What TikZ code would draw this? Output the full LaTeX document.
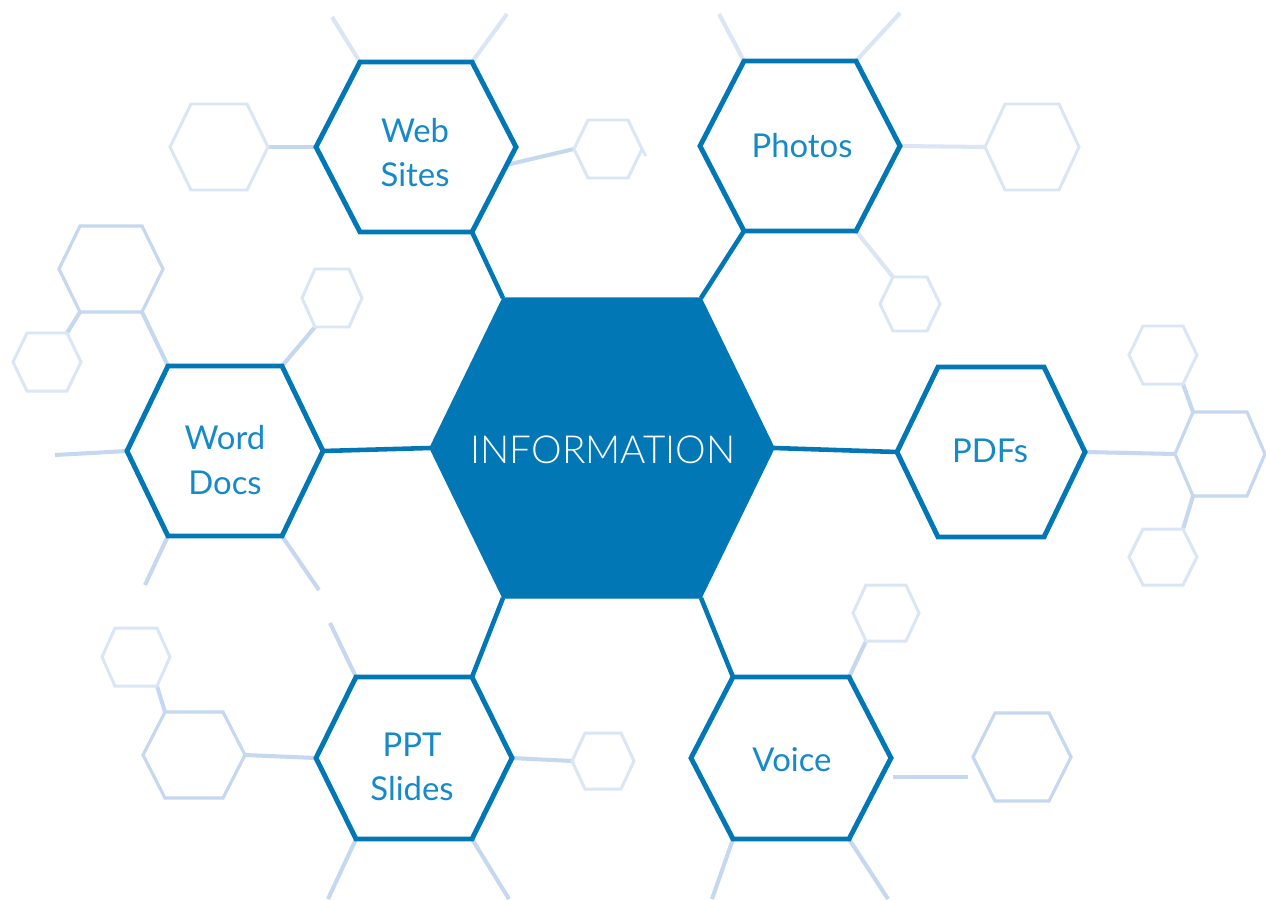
\documentclass[tikz,border=0pt]{standalone}
\usepackage{fontspec}
\setmainfont{Lato}
\IfFontExistsTF{Lato Light}{\newfontfamily\infofont{Lato Light}}{\newfontfamily\infofont{Lato}}
\usetikzlibrary{calc}
\definecolor{mainblue}{RGB}{2,119,182}
\definecolor{labelblue}{RGB}{22,137,200}
\definecolor{lineA}{RGB}{197,216,240}
\definecolor{lineB}{RGB}{219,230,244}
% name, cx, cy, half-width, half-top, half-height
\newcommand{\hexdef}[6]{%
  \coordinate (#1) at (#2,#3);
  \coordinate (#1-l) at ({#2-#4},#3);
  \coordinate (#1-tl) at ({#2-#5},{#3-#6});
  \coordinate (#1-tr) at ({#2+#5},{#3-#6});
  \coordinate (#1-r) at ({#2+#4},#3);
  \coordinate (#1-br) at ({#2+#5},{#3+#6});
  \coordinate (#1-bl) at ({#2-#5},{#3+#6});
}
\newcommand{\hexdraw}[2]{\draw[#2] (#1-l) -- (#1-tl) -- (#1-tr) -- (#1-r) -- (#1-br) -- (#1-bl) -- cycle;}
\tikzset{
  mainhex/.style={draw=mainblue, line width=2.8pt, fill=white},
  corehex/.style={fill=mainblue, draw=mainblue, line width=0.8pt},
  mainlink/.style={draw=mainblue, line width=2.6pt},
  fainthexA/.style={draw=lineA, line width=1.8pt},
  fainthexB/.style={draw=lineB, line width=1.7pt},
  linkA/.style={draw=lineA, line width=2.3pt},
  linkB/.style={draw=lineB, line width=2.3pt},
  satlabel/.style={text=labelblue, font=\fontsize{18.7}{22}\selectfont, anchor=base, inner sep=0pt},
  infolabel/.style={text=white, font=\infofont\fontsize{22}{26}\selectfont, anchor=base, inner sep=0pt}
}
\begin{document}
\begin{tikzpicture}[x=0.02cm,y=-0.02cm]
\fill[white] (0,0) rectangle (1266,899);
\path[use as bounding box] (0,0) rectangle (1266,899);
% ---------- hexagon geometry
\hexdef{info}{602}{448}{172}{99}{150}
\hexdef{ws}{416}{147}{100}{56}{85}
\hexdef{ph}{800}{146}{100}{56}{85}
\hexdef{wd}{225}{451}{98}{57}{85}
\hexdef{pdf}{991}{452}{94}{53}{85}
\hexdef{ppt}{414}{758}{98}{58}{81}
\hexdef{vc}{791}{758}{100}{58}{81}
% faint hexagons
\hexdef{f1}{219}{147}{49}{28}{43}
\hexdef{f2}{608}{149}{34}{20}{29}
\hexdef{f3}{1032}{147}{47}{27}{43}
\hexdef{f4}{910}{304}{30}{17}{27}
\hexdef{f5}{111}{269}{52}{31}{43}
\hexdef{f6}{47}{362}{34}{20}{29}
\hexdef{f7}{332}{298}{30}{17}{29}
\hexdef{f8}{1220}{454}{45}{27}{42}
\hexdef{f9}{1163}{355}{34}{20}{29}
\hexdef{f10}{1163}{557}{34}{20}{28}
\hexdef{f11}{194}{755}{51}{29}{43}
\hexdef{f12}{136}{657}{34}{21}{29}
\hexdef{f13}{603}{761}{31}{18}{28}
\hexdef{f14}{886}{613}{33}{20}{28}
\hexdef{f15}{1022}{757}{49}{27}{44}
% free ends
\coordinate (ws-e) at ($(ws-r)!0.21!(ws-br)$);
\coordinate (ws-u1) at (332,17);
\coordinate (ws-u2) at (507,14);
\coordinate (f2-t) at (646,156);
\coordinate (ph-u1) at (719,14);
\coordinate (ph-u2) at (900,13);
\coordinate (wd-o1) at (55,455);
\coordinate (wd-o2) at (145,585);
\coordinate (wd-o3) at (319,590);
\coordinate (ppt-o1) at (330,623);
\coordinate (ppt-o2) at (328,899);
\coordinate (ppt-o3) at (509,899);
\coordinate (vc-o1) at (712,899);
\coordinate (vc-o2) at (888,899);
\coordinate (vc-d1) at (893,777);
\coordinate (vc-d2) at (968,777);
% ---------- faint connectors
\draw[linkB] (ws-tl) -- (ws-u1);
\draw[linkB] (ws-tr) -- (ws-u2);
\draw[linkA] (f1-r) -- (ws-l);
\draw[linkA] (ws-e) -- (f2-l);
\draw[linkB, line width=1.5pt] (f2-r) -- (f2-t);
\draw[linkB] (ph-tl) -- (ph-u1);
\draw[linkB] (ph-tr) -- (ph-u2);
\draw[linkB] (ph-r) -- (f3-l);
\draw[linkB] (ph-br) -- (f4-tl);
\draw[linkA] (f5-br) -- (wd-tl);
\draw[linkA] (f6-tr) -- (f5-bl);
\draw[linkA] (f7-bl) -- (wd-tr);
\draw[linkA] (wd-l) -- (wd-o1);
\draw[linkA] (wd-bl) -- (wd-o2);
\draw[linkA] (wd-br) -- (wd-o3);
\draw[linkA] (pdf-r) -- (f8-l);
\draw[linkA] (f9-br) -- (f8-tl);
\draw[linkA] (f8-bl) -- (f10-tr);
\draw[linkA] (f11-r) -- (ppt-l);
\draw[linkA] (f12-br) -- (f11-tl);
\draw[linkA] (ppt-r) -- (f13-l);
\draw[linkA] (ppt-tl) -- (ppt-o1);
\draw[linkA] (ppt-bl) -- (ppt-o2);
\draw[linkA] (ppt-br) -- (ppt-o3);
\draw[linkA] (f14-bl) -- (vc-tr);
\draw[linkA] (vc-bl) -- (vc-o1);
\draw[linkA] (vc-br) -- (vc-o2);
\draw[linkA] (vc-d1) -- (vc-d2);
% ---------- faint hexagons
\hexdraw{f1}{fainthexB}
\hexdraw{f2}{fainthexB}
\hexdraw{f3}{fainthexB}
\hexdraw{f4}{fainthexB}
\hexdraw{f5}{fainthexA}
\hexdraw{f6}{fainthexB}
\hexdraw{f7}{fainthexB}
\hexdraw{f8}{fainthexA}
\hexdraw{f9}{fainthexB}
\hexdraw{f10}{fainthexB}
\hexdraw{f11}{fainthexA}
\hexdraw{f12}{fainthexB}
\hexdraw{f13}{fainthexB}
\hexdraw{f14}{fainthexB}
\hexdraw{f15}{fainthexA}
% ---------- main connectors
\draw[mainlink] (ws-br) -- (info-tl);
\draw[mainlink] (ph-bl) -- (info-tr);
\draw[mainlink] (wd-r) -- (info-l);
\draw[mainlink] (pdf-l) -- (info-r);
\draw[mainlink] (ppt-tr) -- (info-bl);
\draw[mainlink] (vc-tl) -- (info-br);
% ---------- main hexagons
\hexdraw{ws}{mainhex}
\hexdraw{ph}{mainhex}
\hexdraw{wd}{mainhex}
\hexdraw{pdf}{mainhex}
\hexdraw{ppt}{mainhex}
\hexdraw{vc}{mainhex}
\hexdraw{info}{corehex}
% ---------- labels
\node[infolabel] (info-t) at (603,463) {INFORMATION};
\node[satlabel] (ws-t1) at (415,142) {Web};
\node[satlabel] (ws-t2) at (415,186) {Sites};
\node[satlabel] (ph-t) at (802,157) {Photos};
\node[satlabel] (wd-t1) at (225,449) {Word};
\node[satlabel] (wd-t2) at (225,494) {Docs};
\node[satlabel] (pdf-t) at (990,462) {PDFs};
\node[satlabel] (ppt-t1) at (412,756) {PPT};
\node[satlabel] (ppt-t2) at (412,800) {Slides};
\node[satlabel] (vc-t) at (792,771) {Voice};
\end{tikzpicture}
\end{document}
